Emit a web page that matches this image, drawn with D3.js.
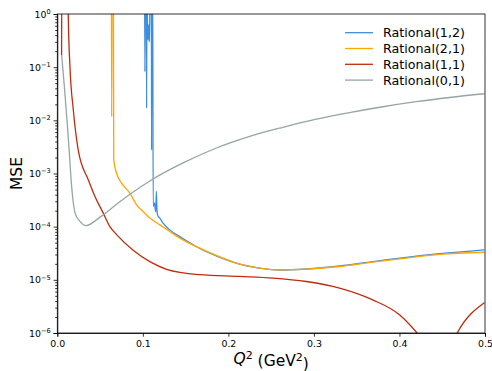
<!DOCTYPE html>
<html>
<head>
<meta charset="utf-8">
<script src="https://cdn.jsdelivr.net/npm/d3@7"></script>
<style>
  html, body { margin: 0; padding: 0; background: #fff; }
  svg { display: block; font-family: "DejaVu Sans", sans-serif; }
</style>
</head>
<body>
<svg id="chart" width="492" height="371"></svg>
<script>
// Q^2 (GeV^2) and MSE samples, one pair of arrays per model
const q12 = [0.1020, 0.1024, 0.1028, 0.1040, 0.1044, 0.1048, 0.1055, 0.1062, 0.1070, 0.1078, 0.1085, 0.1100, 0.1102, 0.1106, 0.1115,
  0.1121, 0.1135, 0.1150, 0.1158, 0.1166, 0.1175, 0.1199, 0.1237, 0.1315, 0.1432, 0.1627, 0.1900, 0.2132, 0.2327, 0.2600,
  0.2911, 0.3300, 0.3688, 0.4078, 0.4468, 0.4992];
const mse12 = [5, 8.2e-2, 5, 5, 1.7e-2, 5, 5.6e-1, 3.2e-1, 6.3e-1, 3.0e-1, 5, 5, 2.75e-3, 5, 5,
  2.4e-4, 2.8e-4, 1.9e-4, 4.6e-4, 2.0e-4, 1.6e-4, 1.45e-4, 1.16e-4, 8.7e-5, 6.5e-5, 4.2e-5, 2.65e-5, 1.97e-5, 1.69e-5, 1.53e-5,
  1.60e-5, 1.82e-5, 2.2e-5, 2.65e-5, 3.1e-5, 3.67e-5];

const q21 = [0.0632, 0.0636, 0.0640, 0.0655, 0.0660, 0.0693, 0.0752, 0.0848, 0.0927, 0.1004, 0.1082, 0.1199, 0.1315, 0.1432,
  0.1665, 0.1900, 0.2132, 0.2327, 0.2600, 0.2911, 0.3300, 0.3688, 0.4078, 0.4468, 0.4992];
const mse21 = [5, 1.17e-2, 5, 5, 1.8e-3, 1.01e-3, 6.6e-4, 4.27e-4, 2.57e-4, 1.92e-4, 1.45e-4, 1.08e-4, 8.1e-5, 6.1e-5,
  3.94e-5, 2.7e-5, 1.97e-5, 1.70e-5, 1.54e-5, 1.59e-5, 1.78e-5, 2.15e-5, 2.56e-5, 3.0e-5, 3.3e-5];

const q11 = [0.0050, 0.0053, 0.0125, 0.0128, 0.0148, 0.0187, 0.0245, 0.0362, 0.0440, 0.0537, 0.0615, 0.0693, 0.0887, 0.1082,
  0.1277, 0.1666, 0.2132, 0.2521, 0.2911, 0.3300, 0.3688, 0.4000, 0.4206, 0.4400, 0.4560, 0.4675, 0.4992];
const mse11 = [1.7e-1, 5, 5, 9.5e-1, 1.02e-1, 1.58e-2, 2.75e-3, 7.6e-4, 3.7e-4, 1.8e-4, 1.0e-4, 7.1e-5, 3.6e-5, 2.2e-5,
  1.58e-5, 1.25e-5, 1.16e-5, 1.08e-5, 9.3e-6, 7.0e-6, 4.2e-6, 2.2e-6, 1.0e-6, 4e-7, 4e-7, 1.0e-6, 3.7e-6];

const q01 = [0.0051, 0.0081, 0.0110, 0.0137, 0.0168, 0.0187, 0.0207, 0.0265, 0.0335, 0.0500, 0.0693, 0.0887, 0.1082, 0.1470, 0.1860,
  0.2250, 0.2638, 0.3028, 0.3416, 0.3805, 0.4195, 0.4585, 0.4992];
const mse01 = [1.7e-1, 4.62e-2, 1.175e-2, 3.0e-3, 5.6e-4, 2.82e-4, 1.82e-4, 1.26e-4, 1.05e-4, 1.51e-4, 2.63e-4, 4.47e-4, 7.24e-4, 1.58e-3, 3.02e-3,
  5.0e-3, 7.4e-3, 1.05e-2, 1.40e-2, 1.80e-2, 2.24e-2, 2.69e-2, 3.16e-2];

const seriesNames = ['Rational(1,2)', 'Rational(2,1)', 'Rational(1,1)', 'Rational(0,1)'];
const seriesColors = ['#3d8fde', '#ffa500', '#c12b0c', '#95a5a6'];
const seriesQ = [q12, q21, q11, q01];
const seriesMse = [mse12, mse21, mse11, mse01];

const xTicks = [0, 0.1, 0.2, 0.3, 0.4, 0.5];
const yExponents = [0, -1, -2, -3, -4, -5, -6];

const svg = d3.select('#chart');
const margin = { top: 14, right: 7, bottom: 38, left: 57.3 };
const W = 492, H = 371;
const x0 = margin.left, x1 = W - margin.right;
const y0 = margin.top, y1 = H - margin.bottom;

const x = d3.scaleLinear().domain([0, 0.5]).range([x0, x1]);
const y = d3.scaleLog().domain([1e-6, 1]).range([y1, y0]);

svg.append('defs').append('clipPath').attr('id', 'plot-clip')
  .append('rect').attr('x', x0).attr('y', y0).attr('width', x1 - x0).attr('height', y1 - y0);

// Lines
const line = d3.line().x(d => x(d[0])).y(d => y(d[1])).curve(d3.curveMonotoneX);
const plot = svg.append('g').attr('clip-path', 'url(#plot-clip)');
seriesNames.forEach((name, i) => {
  const pts = seriesQ[i].map((q, j) => [q, seriesMse[i][j]]);
  plot.append('path')
    .datum(pts)
    .attr('d', line)
    .attr('fill', 'none')
    .attr('stroke', seriesColors[i])
    .attr('stroke-width', 1.3)
    .attr('stroke-linejoin', 'round');
});

// X axis
const xAxis = svg.append('g')
  .attr('transform', `translate(0,${y1})`)
  .call(d3.axisBottom(x).tickValues(xTicks).tickFormat(d3.format('.1f')).tickSize(3.7).tickPadding(3.2));
xAxis.selectAll('text').attr('fill', '#000').style('font-size', '9.4px').style('font-family', 'DejaVu Sans');

// Y axis: major ticks with 10^n labels
const yAxis = svg.append('g')
  .attr('transform', `translate(${x0},0)`)
  .call(d3.axisLeft(y).tickValues(yExponents.map(e => Math.pow(10, e))).tickSize(3.7).tickPadding(3));
yAxis.selectAll('text')
  .attr('fill', '#000')
  .style('font-size', '9.4px')
  .style('font-family', 'DejaVu Sans')
  .each(function(d) {
    const e = Math.round(Math.log10(d));
    const t = d3.select(this).text('');
    t.append('tspan').text('10');
    t.append('tspan').attr('dy', '-0.55em').style('font-size', '6.6px')
      .text(e < 0 ? '\u2212' + (-e) : String(e));
  });

// Y minor ticks
const minor = [];
for (let e = -6; e < 0; e++) for (let m = 2; m <= 9; m++) minor.push(m * Math.pow(10, e));
svg.append('g')
  .attr('transform', `translate(${x0},0)`)
  .call(d3.axisLeft(y).tickValues(minor).tickSize(2.1).tickFormat(''))
  .select('.domain').remove();

svg.selectAll('.domain, .tick line').attr('stroke', '#000').attr('stroke-width', 0.8);

// Frame (top and right spines)
svg.append('rect')
  .attr('x', x0).attr('y', y0).attr('width', x1 - x0).attr('height', y1 - y0)
  .attr('fill', 'none').attr('stroke', '#000').attr('stroke-width', 0.8);

// Axis labels
svg.append('text')
  .attr('transform', `translate(21.5,${(y0 + y1) / 2}) rotate(-90)`)
  .attr('text-anchor', 'middle')
  .style('font-size', '15.5px')
  .text('MSE');

const xl = svg.append('text')
  .attr('x', (x0 + x1) / 2).attr('y', 364)
  .attr('text-anchor', 'middle')
  .style('font-size', '15.5px');
xl.append('tspan').style('font-style', 'italic').text('Q');
xl.append('tspan').attr('dy', '-0.5em').style('font-size', '11px').text('2');
xl.append('tspan').attr('dy', '0.5em').text(' (GeV');
xl.append('tspan').attr('dy', '-0.5em').style('font-size', '11px').text('2');
xl.append('tspan').attr('dy', '0.5em').text(')');

// Legend (no frame)
const legend = svg.append('g');
seriesNames.forEach((name, i) => {
  const ly = 32.7 + i * 15.8;
  legend.append('line')
    .attr('x1', 345).attr('x2', 373).attr('y1', ly).attr('y2', ly)
    .attr('stroke', seriesColors[i]).attr('stroke-width', 1.3);
  legend.append('text')
    .attr('x', 383).attr('y', ly).attr('dy', '0.36em')
    .style('font-size', '12.7px')
    .text(name);
});
</script>
</body>
</html>
